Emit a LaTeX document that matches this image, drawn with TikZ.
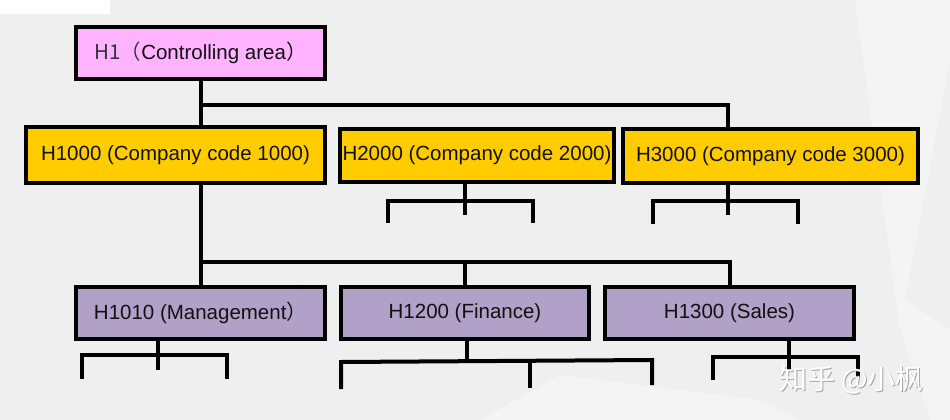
\documentclass[tikz,border=0pt]{standalone}
\usepackage{fontspec}
\setmainfont{Liberation Sans}
\newfontfamily\cjkfont{Noto Sans CJK SC}
\usetikzlibrary{calc}
\definecolor{bgc}{HTML}{EFEFEF}
\definecolor{bgl}{HTML}{F4F4F4}
\definecolor{pinkc}{HTML}{FFB3FF}
\definecolor{yellc}{HTML}{FFCC00}
\definecolor{purpc}{HTML}{B1A0C7}
\definecolor{txtc}{HTML}{111111}
\tikzset{
  box/.style={draw=black, line width=4pt, inner sep=0pt, text=txtc,
    font=\fontsize{20.5}{24}\selectfont},
  topbox/.style={box, fill=pinkc},
  cobox/.style={box, fill=yellc},
  unitbox/.style={box, fill=purpc},
  conn/.style={draw=black, line width=4pt, line join=miter},
}
\begin{document}
\begin{tikzpicture}[x=1pt, y=-1pt]
\useasboundingbox (0,0) rectangle (950,420);
% background
\fill[bgc] (0,0) rectangle (950,420);
\fill[bgl] (855,0) -- (950,0) -- (950,60) -- (905,300) -- (950,330) -- (950,420) -- (930,420) -- (900,330) -- cycle;
\fill[bgl] (480,420) -- (560,375) -- (760,400) -- (800,420) -- cycle;
\fill[white] (0,0) rectangle (110,14);

% nodes
\node[topbox, minimum width=249pt, minimum height=52pt] (H1) at (200.5,53)
  {{\cjkfont\color{black!80}H1（}Controlling area{\cjkfont）}};
\node[cobox, minimum width=299pt, minimum height=56pt] (H1000) at (175.5,155) {H1000 (Company code 1000)};
\node[cobox, minimum width=274pt, minimum height=53pt] (H2000) at (477,155.5) {H2000 (Company code 2000)};
\node[cobox, minimum width=295pt, minimum height=54pt] (H3000) at (770.5,156) {H3000 (Company code 3000)};
\node[unitbox, minimum width=249pt, minimum height=52pt] (H1010) at (200.5,313) {H1010 (Management{\cjkfont）}};
\node[unitbox, minimum width=248pt, minimum height=52pt] (H1200) at (465,313) {H1200 (Finance)};
\node[unitbox, minimum width=249pt, minimum height=52pt] (H1300) at (729.5,313) {H1300 (Sales)};

% level 1 -> 2
\coordinate (bus1) at (200,105);
\draw[conn] (H1.south) -- (H1.south |- H1000.north);
\draw[conn] (bus1) -| ($(H3000.north)+(-42.5,0)$);
\draw[conn] ($(H2000.north)+(-12,0)$) -- ($(H2000.north)+(-12,0)$ |- bus1);

% H2000 stub
\coordinate (s2) at (465,215);
\draw[conn] ($(H2000.south)+(-12,0)$) -- (s2);
\draw[conn] (388,223) -- (388,201) -- (533,201) -- (533,223);
% H3000 stub
\coordinate (s3) at (728,215);
\draw[conn] ($(H3000.south)+(-42.5,0)$) -- (s3);
\draw[conn] (653,224) -- (653,201) -- (798,201) -- (798,224);

% H1000 -> units
\coordinate (bus2) at (200,262);
\draw[conn] (H1010.north |- H1000.south) -- (H1010.north);
\draw[conn] (bus2) -| (H1300.north);
\draw[conn] (H1200.north) -- (H1200.north |- bus2);

% H1010 stub
\coordinate (s4) at (158,370);
\draw[conn] (H1010.south -| s4) -- (s4);
\draw[conn] (82,379) -- (82,355) -- (227,355) -- (227,379);
% H1200 stub
\coordinate (s5) at (467,361);
\draw[conn] (H1200.south -| s5) -- (s5);
\draw[conn] (341,389) -- (341,362) -- (652,360) -- (652,385);
\draw[conn] (530,361) -- (530,388);
% H1300 stub
\coordinate (s6) at (789,370);
\draw[conn] (H1300.south -| s6) -- (s6);
\draw[conn] (713,380) -- (713,357) -- (858,357) -- (858,377);

% watermark
\node[text=black!35, font=\cjkfont\fontsize{28}{30}\selectfont] (wm0) at (852.5,381) {知乎 @小枫};
\node[text=white, font=\cjkfont\fontsize{28}{30}\selectfont] (wm) at (851.5,380) {知乎 @小枫};
\end{tikzpicture}
\end{document}
